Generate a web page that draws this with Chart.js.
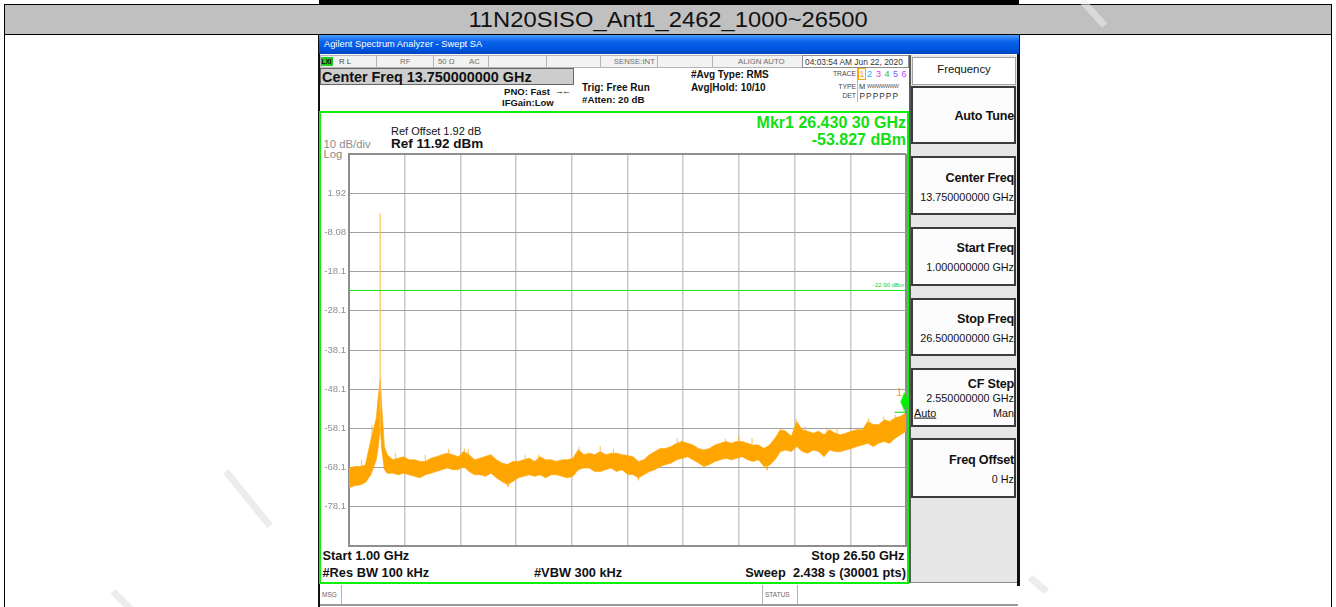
<!DOCTYPE html>
<html>
<head>
<meta charset="utf-8">
<script src="https://cdn.jsdelivr.net/npm/chart.js@4.4.1/dist/chart.umd.min.js"></script>
<style>
  body { margin: 0; width: 1336px; height: 607px; overflow: hidden; background: #fff; position: relative;
         font-family: "Liberation Sans", Arial, sans-serif; color: #111; }
  .b { position: absolute; box-sizing: border-box; }
  .t { position: absolute; white-space: pre; line-height: 1; transform: translateY(-50%); }
  .r { text-align: right; }
  .bold { font-weight: bold; }
  .st { font-size: 7.8px; color: #6e6e6e; }
  .key { border: 2px solid #3c3c3c; background: #fcfcfc; left: 911px; width: 105px; }
  .kt { font-size: 12.6px; font-weight: bold; right: 322px; letter-spacing: -0.2px; }
  .kv { font-size: 10.8px; right: 322px; }
  .mk { font-size: 12.8px; font-weight: bold; }
  .wm { position: absolute; height: 7px; background: #ececec; transform-origin: 0 50%; }
  #c { position: absolute; left: 0; top: 0; z-index: 5; }
</style>
</head>
<body>
<!-- report table around the screenshot -->
<div class="b" style="left:319px;top:0;width:700px;height:4px;background:#000"></div>
<div class="b" style="left:4px;top:4px;width:1328px;height:31px;background:#c0c0c0;border:1px solid #000"></div>
<div class="b" style="left:4px;top:34px;width:1px;height:573px;background:#000"></div>
<div class="b" style="left:1331px;top:34px;width:1px;height:573px;background:#000"></div>
<div class="t" style="left:0;width:1336px;text-align:center;top:19.5px;font-size:22px;transform:translateY(-50%) scaleX(1.08)">11N20SISO_Ant1_2462_1000~26500</div>

<!-- faint watermark strokes -->
<div class="wm" style="left:1082px;top:-3px;width:34px;transform:rotate(48deg);background:rgba(236,236,236,0.55)"></div>
<div class="wm" style="left:226px;top:468px;width:70px;transform:rotate(51deg)"></div>
<div class="wm" style="left:113px;top:588px;width:30px;transform:rotate(45deg)"></div>
<div class="wm" style="left:1030px;top:574px;width:22px;transform:rotate(40deg)"></div>

<!-- analyzer window -->
<div class="b" style="left:318px;top:35px;width:2px;height:572px;background:#111"></div>
<div class="b" style="left:1017px;top:35px;width:3px;height:551px;background:#111"></div>
<div class="b" style="left:319px;top:35px;width:700px;height:19px;background:linear-gradient(#4c9bff,#0a62ea 35%,#0055df 75%,#0042bb)"></div>
<div class="t" style="left:324px;top:45px;font-size:9.3px;color:#fff">Agilent Spectrum Analyzer - Swept SA</div>

<!-- status row -->
<div class="b" style="left:320px;top:55px;width:590px;height:13px;background:#f2f2f2;border:1px solid #b4b4b4"></div>
<div class="b" style="left:376px;top:55px;width:1px;height:13px;background:#b4b4b4"></div>
<div class="b" style="left:433px;top:55px;width:1px;height:13px;background:#b4b4b4"></div>
<div class="b" style="left:488px;top:55px;width:1px;height:13px;background:#b4b4b4"></div>
<div class="b" style="left:546px;top:55px;width:1px;height:13px;background:#b4b4b4"></div>
<div class="b" style="left:600px;top:55px;width:1px;height:13px;background:#b4b4b4"></div>
<div class="b" style="left:657px;top:55px;width:1px;height:13px;background:#b4b4b4"></div>
<div class="b" style="left:712px;top:55px;width:1px;height:13px;background:#b4b4b4"></div>
<div class="b" style="left:802px;top:55px;width:107px;height:13px;background:#fff;border:1px solid #8c8c8c"></div>
<div class="b" style="left:321px;top:57px;width:12px;height:9px;background:#22cc22"></div>
<div class="t bold" style="left:321.5px;top:61.5px;font-size:6.5px;color:#000">LXI</div>
<div class="t st" style="left:339px;top:61.5px;color:#444">R L</div>
<div class="t st" style="left:400px;top:61.5px">RF</div>
<div class="t st" style="left:438px;top:61.5px">50 Ω</div>
<div class="t st" style="left:469px;top:61.5px">AC</div>
<div class="t st r" style="right:681px;top:61.5px">SENSE:INT</div>
<div class="t st" style="left:738px;top:61.5px">ALIGN AUTO</div>
<div class="t" style="left:805px;top:61.5px;font-size:8.4px;color:#333">04:03:54 AM Jun 22, 2020</div>

<!-- settings block -->
<div class="b" style="left:320px;top:68px;width:254px;height:17px;background:#cdcdcd;border:1px solid #666"></div>
<div class="t bold" style="left:322px;top:77px;font-size:14.4px">Center Freq 13.750000000 GHz</div>
<div class="t bold r" style="right:786px;top:91.5px;font-size:9.5px">PNO: Fast</div>
<div class="t" style="left:555px;top:91px;font-size:9px;letter-spacing:-2px">→←</div>
<div class="t bold" style="left:502px;top:103px;font-size:9.5px">IFGain:Low</div>
<div class="t bold" style="left:582px;top:87.5px;font-size:10px">Trig: Free Run</div>
<div class="t bold" style="left:582px;top:99.5px;font-size:9.7px">#Atten: 20 dB</div>
<div class="t bold" style="left:691px;top:75px;font-size:10px">#Avg Type: RMS</div>
<div class="t bold" style="left:691px;top:87.5px;font-size:10px">Avg|Hold: 10/10</div>
<div class="b" style="left:857px;top:68px;width:1px;height:34px;background:#b4b4b4"></div>
<div class="t r" style="right:480px;top:74px;font-size:6.8px;color:#444">TRACE</div>
<div class="b" style="left:858px;top:68px;width:8px;height:12px;border:1px solid #ffa500"></div>
<div class="t" style="left:859.5px;top:74px;font-size:9px;color:#ffa500">1</div>
<div class="t" style="left:867px;top:74px;font-size:9px;color:#22a8ff">2</div>
<div class="t" style="left:876px;top:74px;font-size:9px;color:#e23ce2">3</div>
<div class="t" style="left:884.5px;top:74px;font-size:9px;color:#2ebd2e">4</div>
<div class="t" style="left:893px;top:74px;font-size:9px;color:#7a5cff">5</div>
<div class="t" style="left:901.5px;top:74px;font-size:9px;color:#c03cff">6</div>
<div class="t r" style="right:480px;top:86.5px;font-size:6.8px;color:#444">TYPE</div>
<div class="t" style="left:859px;top:86.5px;font-size:7.5px;color:#333">M</div>
<div class="t" style="left:867px;top:86.5px;font-size:5.2px;color:#555;letter-spacing:-0.4px">WWWWWWW</div>
<div class="t r" style="right:480px;top:96px;font-size:6.8px;color:#444">DET</div>
<div class="t" style="left:859.5px;top:96px;font-size:8.3px;color:#333;letter-spacing:1.05px">PPPPPP</div>

<!-- graticule frame and labels -->
<div class="b" style="left:319px;top:111px;width:590px;height:473px;border:2px solid #0bf00b"></div>
<div class="t" style="left:391px;top:130.5px;font-size:11px">Ref Offset 1.92 dB</div>
<div class="t bold" style="left:391px;top:143.5px;font-size:13.5px">Ref 11.92 dBm</div>
<div class="t" style="left:323.5px;top:145px;font-size:11.3px;color:#8a8a8a">10 dB/div</div>
<div class="t" style="left:323.5px;top:154.5px;font-size:11.3px;color:#8a8a8a">Log</div>
<div class="t bold r" style="right:430px;top:122.5px;font-size:16px;color:#10e010">Mkr1 26.430 30 GHz</div>
<div class="t bold r" style="right:430px;top:139.5px;font-size:16px;color:#10e010">-53.827 dBm</div>
<div class="t r" style="right:432px;top:285px;font-size:6px;color:#10d010">-22.90 dBm</div>
<div class="t" style="left:896px;top:392px;font-size:11px;color:#ffa500;z-index:6">1</div>
<div class="t mk" style="left:322.5px;top:555.5px">Start 1.00 GHz</div>
<div class="t mk r" style="right:431.5px;top:555.5px">Stop 26.50 GHz</div>
<div class="t mk" style="left:322.5px;top:572.5px">#Res BW 100 kHz</div>
<div class="t mk" style="left:534px;top:572.5px">#VBW 300 kHz</div>
<div class="t mk r" style="right:430px;top:572.5px">Sweep  2.438 s (30001 pts)</div>

<!-- message row -->
<div class="b" style="left:320px;top:584px;width:698px;height:22px;border-bottom:2px solid #9a9a9a"></div>
<div class="b" style="left:341px;top:585px;width:1px;height:19px;background:#b4b4b4"></div>
<div class="b" style="left:762px;top:585px;width:1px;height:19px;background:#b4b4b4"></div>
<div class="b" style="left:797px;top:585px;width:1px;height:19px;background:#b4b4b4"></div>
<div class="t" style="left:322px;top:595px;font-size:6.5px;color:#666">MSG</div>
<div class="t" style="left:765px;top:595px;font-size:6.5px;color:#666">STATUS</div>

<!-- softkey panel -->
<div class="b" style="left:909px;top:55px;width:108px;height:528px;background:#e6e6e6;border-left:2px solid #5a5a5a;border-bottom:1px solid #8a8a8a"></div>
<div class="b" style="left:912px;top:57px;width:104px;height:28px;background:#fff;border:1px solid #a0a0a0"></div>
<div class="t" style="left:912px;width:104px;text-align:center;top:69.5px;font-size:11.3px">Frequency</div>
<div class="b key" style="top:86px;height:58px"></div>
<div class="t kt" style="top:116px">Auto Tune</div>
<div class="b key" style="top:156px;height:59px"></div>
<div class="t kt" style="top:177.5px">Center Freq</div>
<div class="t kv" style="top:196.5px">13.750000000 GHz</div>
<div class="b key" style="top:227px;height:59px"></div>
<div class="t kt" style="top:247.5px">Start Freq</div>
<div class="t kv" style="top:266.5px">1.000000000 GHz</div>
<div class="b key" style="top:298px;height:58px"></div>
<div class="t kt" style="top:318.5px">Stop Freq</div>
<div class="t kv" style="top:337.5px">26.500000000 GHz</div>
<div class="b key" style="top:368px;height:59px"></div>
<div class="t kt" style="top:383.5px">CF Step</div>
<div class="t kv" style="top:398px">2.550000000 GHz</div>
<div class="t kv" style="left:914px;top:412.5px;text-decoration:underline">Auto</div>
<div class="t kv" style="top:412.5px">Man</div>
<div class="b key" style="top:438px;height:60px"></div>
<div class="t kt" style="top:460px">Freq Offset</div>
<div class="t kv" style="top:479px">0 Hz</div>

<canvas id="c" width="1336" height="607"></canvas>

<script>
// sweep 1 GHz .. 26.5 GHz, trace (upper / lower edge of the noise band, dBm)
const freqGHz = [1.00, 1.25, 1.50, 1.75, 2.00, 2.25, 2.34, 2.43, 2.50, 2.62,
  2.75, 3.00, 3.25, 3.50, 3.75, 4.00, 4.25, 4.50, 4.75, 5.00, 5.25, 5.50, 5.75, 6.00,
  6.25, 6.50, 6.75, 7.00, 7.25, 7.50, 7.75, 8.00, 8.25, 8.50, 8.75, 9.00, 9.25, 9.50,
  9.75, 10.00, 10.25, 10.50, 10.75, 11.00, 11.25, 11.50, 11.75, 12.00, 12.25, 12.50,
  12.75, 13.00, 13.25, 13.50, 13.75, 14.00, 14.25, 14.50, 14.75, 15.00, 15.25, 15.50,
  15.75, 16.00, 16.25, 16.50, 16.75, 17.00, 17.25, 17.50, 17.75, 18.00, 18.25, 18.50,
  18.75, 19.00, 19.25, 19.50, 19.75, 20.00, 20.25, 20.50, 20.75, 21.00, 21.25, 21.50,
  21.75, 22.00, 22.25, 22.50, 22.75, 23.00, 23.25, 23.50, 23.75, 24.00, 24.25, 24.50,
  24.75, 25.00, 25.25, 25.50, 25.75, 26.00, 26.25, 26.50];

const traceHi = [-68.2, -67.8, -67.8, -67.4, -61.0, -55.4, -50.0, -45.5, -52.5, -62.7,
  -64.8, -66.1, -65.7, -65.3, -66.1, -66.1, -66.5, -66.5, -65.7, -65.3, -64.8, -64.4, -64.8, -65.3,
  -64.0, -64.8, -66.1, -65.7, -65.2, -64.8, -66.1, -66.9, -67.3, -66.5, -66.5, -66.1, -65.7, -66.5,
  -65.3, -66.1, -66.1, -66.5, -66.1, -66.1, -65.7, -63.5, -64.8, -64.4, -64.8, -64.0,
  -64.8, -64.4, -64.4, -64.8, -65.0, -65.3, -66.5, -66.1, -64.8, -64.0, -63.2, -63.2,
  -62.7, -61.9, -61.4, -61.9, -62.3, -63.2, -63.6, -63.2, -62.3, -61.9, -61.4, -61.9,
  -61.4, -61.4, -61.9, -62.3, -62.3, -63.2, -62.3, -60.6, -58.4, -58.8, -60.1, -56.3,
  -58.4, -58.8, -59.3, -58.8, -59.7, -58.4, -59.3, -59.7, -59.3, -58.8, -58.4, -58.4,
  -56.3, -57.1, -57.1, -55.9, -56.3, -55.4, -55.0, -54.1];

const traceLo = [-73.2, -72.7, -72.5, -71.9, -69.9, -66.1, -62.7, -57.6, -63.5, -68.6,
  -69.5, -69.5, -69.9, -69.5, -69.9, -70.3, -70.7, -69.9, -69.5, -69.1, -68.6, -68.2, -68.6, -68.6,
  -67.8, -69.1, -69.9, -69.9, -70.3, -69.5, -70.7, -71.6, -72.4, -71.6, -70.7, -70.3, -69.9, -70.3,
  -69.9, -70.7, -69.9, -69.9, -70.3, -70.7, -70.3, -68.6, -68.2, -68.2, -69.1, -69.1,
  -68.6, -68.2, -69.1, -68.6, -69.8, -69.9, -70.7, -69.9, -69.1, -68.6, -67.8, -67.3,
  -66.9, -66.1, -65.7, -65.3, -66.1, -66.9, -67.8, -67.3, -66.5, -66.1, -65.7, -66.1,
  -65.7, -65.3, -66.1, -66.5, -66.1, -67.8, -67.5, -66.1, -64.0, -63.6, -64.0, -62.7,
  -64.0, -64.4, -63.6, -64.0, -65.3, -63.6, -64.0, -64.0, -63.6, -63.2, -62.7, -62.3,
  -61.9, -62.7, -61.9, -61.4, -61.9, -60.6, -59.7, -58.8];

// single noise spikes sticking out of the band: [freq, from, to]
const noiseSpikes = [
  [1.57, -68.5, -66.1], [2.05, -63.0, -57.2], [3.12, -66.5, -64.3], [4.49, -67.0, -64.8],
  [5.56, -65.0, -63.3], [6.28, -64.5, -63.2], [6.46, -65.0, -63.4], [9.07, -66.5, -64.9],
  [9.68, -66.0, -64.8], [11.54, -64.0, -62.8], [12.50, -64.5, -62.6], [13.11, -65.0, -63.3],
  [16.03, -62.0, -60.5], [18.23, -62.0, -60.8], [18.84, -61.5, -60.1], [19.45, -62.0, -60.6],
  [21.47, -57.0, -55.7], [21.89, -59.0, -57.6], [22.88, -59.5, -57.8], [23.34, -59.5, -57.9],
  [24.79, -57.0, -55.5], [25.48, -56.5, -55.0], [26.01, -56.0, -54.6],
  [8.29, -71.5, -73.0], [14.25, -70.5, -71.3], [20.14, -67.5, -68.6],
];

// carrier leaking through at 2.43 GHz: [freq, bottom, top]
const carrierSpike = [2.43, -58.0, -3.3];
// display line and marker 1
const displayLine = -22.90;
const marker1 = [26.43, -53.827];

const yTop = 11.92, yBottom = -88.08;

function markerShape() {
  const c = document.createElement('canvas');
  c.width = 24; c.height = 44;
  const g = c.getContext('2d');
  g.fillStyle = '#00ee00';
  g.beginPath();
  g.moveTo(12, 2); g.lineTo(16, 12); g.lineTo(12, 22); g.lineTo(8, 12); g.closePath();
  g.fill();
  g.strokeStyle = '#00dd00';
  g.lineWidth = 1;
  g.beginPath(); g.moveTo(2, 22.5); g.lineTo(14, 22.5); g.stroke();
  return c;
}

const pts = (ys) => freqGHz.map((f, i) => ({ x: f, y: ys[i] }));
const spikePts = [];
noiseSpikes.forEach(([f, a, b]) => {
  spikePts.push({ x: f, y: a }, { x: f, y: b }, { x: f, y: null });
});

new Chart(document.getElementById('c'), {
  type: 'line',
  data: {
    datasets: [
      {
        label: 'marker',
        data: [{ x: marker1[0], y: marker1[1] }],
        showLine: false,
        pointStyle: markerShape(),
        pointRadius: 5,
        clip: false,
      },
      {
        label: 'display line',
        data: [{ x: 1, y: displayLine }, { x: 26.5, y: displayLine }],
        borderColor: '#14e614',
        borderWidth: 1,
      },
      {
        label: 'spike',
        data: [{ x: carrierSpike[0], y: carrierSpike[1] }, { x: carrierSpike[0], y: carrierSpike[2] }],
        borderColor: 'rgba(255,190,80,0.75)',
        borderWidth: 1.6,
      },
      {
        label: 'noise',
        data: spikePts,
        borderColor: 'rgba(255,170,30,0.75)',
        borderWidth: 1,
        spanGaps: false,
      },
      {
        label: 'trace hi',
        data: pts(traceHi),
        borderColor: 'rgba(255,170,20,0.7)',
        borderWidth: 1,
        backgroundColor: '#ffa500',
        fill: '+1',
      },
      {
        label: 'trace lo',
        data: pts(traceLo),
        borderColor: 'rgba(255,170,20,0.7)',
        borderWidth: 1,
      },
    ],
  },
  options: {
    responsive: false,
    animation: false,
    devicePixelRatio: 1,
    layout: { padding: { left: 319, top: 154, right: 430, bottom: 61 } },
    plugins: { legend: { display: false }, tooltip: { enabled: false } },
    elements: { point: { radius: 0 }, line: { tension: 0 } },
    scales: {
      x: {
        type: 'linear',
        min: 1,
        max: 26.5,
        ticks: { display: false, stepSize: 2.55 },
        grid: {
          drawTicks: false,
          color: (c) => (c.index === 0 || c.index === 10 ? '#8e8e8e' : '#c8c8c8'),
          lineWidth: (c) => (c.index === 0 || c.index === 10 ? 2 : 1.5),
        },
        border: { color: '#8e8e8e', width: 2 },
        afterFit: (s) => { s.height = 0; },
      },
      y: {
        min: yBottom,
        max: yTop,
        ticks: {
          stepSize: 10,
          padding: 3,
          color: '#8e8e8e',
          font: { family: 'Liberation Sans', size: 9.5 },
          callback: (v, i) => (i === 0 || i === 10 ? '' : Number(v.toPrecision(3)).toString()),
        },
        grid: {
          drawTicks: false,
          color: (c) => (c.index === 0 || c.index === 10 ? '#8e8e8e' : '#a0a0a0'),
          lineWidth: (c) => (c.index === 0 || c.index === 10 ? 2 : 1),
        },
        border: { color: '#8e8e8e', width: 2 },
        afterFit: (s) => { s.width = 30; },
      },
    },
  },
});
</script>
</body>
</html>
